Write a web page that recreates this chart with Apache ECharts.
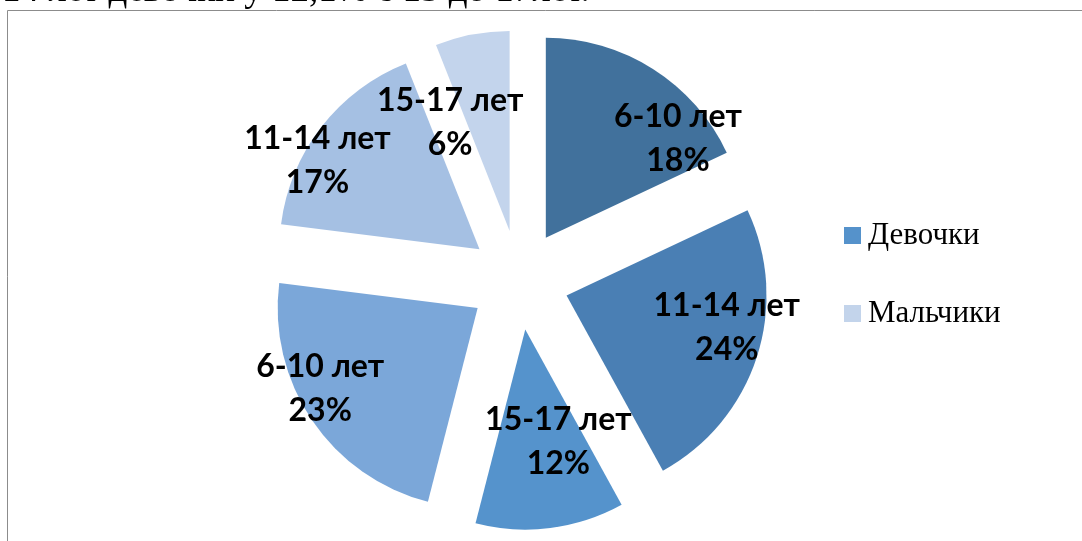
<!DOCTYPE html>
<html>
<head>
<meta charset="utf-8">
<script src="https://cdn.jsdelivr.net/npm/echarts@6/dist/echarts.min.js"></script>
<style>
html,body{margin:0;padding:0;background:#fff;}
#c{width:1082px;height:541px;}
</style>
</head>
<body>
<div id="c"></div>
<script>
// ---- data ----
const categories = ['6-10 лет', '11-14 лет', '15-17 лет', '6-10 лет', '11-14 лет', '15-17 лет'];
const groups = ['Девочки', 'Девочки', 'Девочки', 'Мальчики', 'Мальчики', 'Мальчики'];
const values = [18, 24, 12, 23, 17, 6];
const legendNames = ['Девочки', 'Мальчики'];
const headerText = '14 лет девочки у 12,1% с 15 до 17лет.';

// ---- styles / layout ----
const sliceColors = ['#41719C', '#4A7FB4', '#5593CC', '#7BA7D9', '#A5C0E3', '#C3D4EC'];
const legendColors = ['#5592CB', '#C3D4EB'];
// label nudges relative to the library's label anchor on the slice edge
const labelShift = [[20, 70], [-35, -30], [3, -86], [13, -32], [1, 34], [-17, 88]];

const chart = echarts.init(document.getElementById('c'), null, {renderer: 'canvas'});

const pieData = values.map((v, i) => ({
  name: categories[i],
  value: v,
  group: groups[i],
  selected: true,
  itemStyle: {color: sliceColors[i]}
}));

const dummySeries = legendNames.map((n, i) => ({
  type: 'pie',
  name: n,
  data: [],
  showEmptyCircle: false,
  itemStyle: {color: legendColors[i]},
  label: {show: false}
}));

chart.setOption({
  animation: false,
  backgroundColor: '#fff',
  legend: {
    data: legendNames,
    orient: 'vertical',
    left: 844,
    top: 220,
    itemWidth: 17,
    itemHeight: 17,
    itemGap: 47,
    icon: 'rect',
    padding: 0,
    selectedMode: false,
    textStyle: {fontFamily: '"Liberation Serif", "Times New Roman", serif', fontSize: 31, color: '#000', padding: [0, 0, 0, 2]}
  },
  graphic: [
    {type: 'rect', silent: true, z: -1,
      shape: {x: 7.5, y: 10.5, width: 1100, height: 600},
      style: {fill: 'none', stroke: '#8c8c8c', lineWidth: 1}},
    {type: 'text', silent: true, x: 2, y: -9,
      style: {text: headerText, fontFamily: '"Liberation Serif", serif', fontSize: 37, fill: '#000', verticalAlign: 'middle'}}
  ],
  series: [{
    type: 'pie',
    name: 'Дети',
    center: [519, 280],
    radius: [0, 200],
    startAngle: 90,
    clockwise: true,
    selectedMode: 'multiple',
    selectedOffset: 50,
    avoidLabelOverlap: false,
    silent: true,
    label: {
      show: true,
      position: 'outside',
      formatter: p => p.name + '\n' + p.value + '%',
      fontFamily: 'Lato, "Open Sans", sans-serif',
      fontWeight: 'bold',
      fontSize: 32,
      lineHeight: 44,
      color: '#000'
    },
    labelLine: {show: false, length: 0, length2: 0},
    labelLayout: p => ({
      align: 'center',
      verticalAlign: 'middle',
      dx: labelShift[p.dataIndex][0],
      dy: labelShift[p.dataIndex][1]
    }),
    emphasis: {disabled: true},
    select: {itemStyle: {borderWidth: 0}},
    data: pieData
  }].concat(dummySeries)
});
</script>
</body>
</html>
